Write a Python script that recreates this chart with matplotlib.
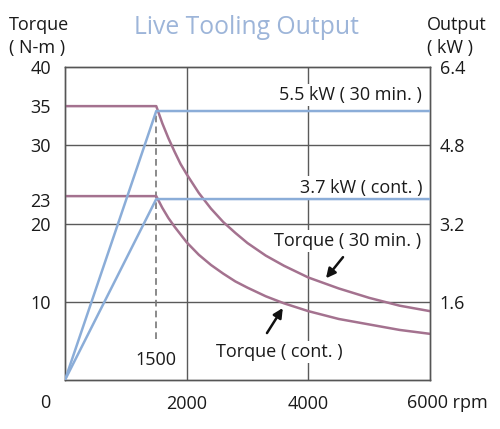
import numpy as np
import matplotlib
matplotlib.use("Agg")
import matplotlib.pyplot as plt

plt.rcParams['font.family'] = ['Open Sans', 'DejaVu Sans']

# torque curves (N-m)
rpm_t = [0, 1500, 1600, 1700, 1800, 1900, 2000, 2200, 2400, 2600, 2800, 3000,
         3300, 3600, 4000, 4500, 5000, 5500, 6000]
torque_30 = [35, 35, 32.8, 30.9, 29.2, 27.6, 26.3, 23.9, 21.9, 20.2, 18.8, 17.5,
             15.9, 14.6, 13.1, 11.7, 10.5, 9.5, 8.8]
torque_cont = [23.5, 23.5, 22.0, 20.7, 19.6, 18.6, 17.6, 16.0, 14.7, 13.6, 12.6, 11.8,
               10.7, 9.8, 8.8, 7.8, 7.1, 6.4, 5.9]

# output curves (kW)
rpm_p = [0, 1500, 6000]
power_30 = [0, 5.5, 5.5]
power_cont = [0, 3.7, 3.7]

left_ticks = [40, 35, 30, 23, 20, 10]
right_ticks = [6.4, 4.8, 3.2, 1.6]
x_ticks = [2000, 4000]

mauve = '#a4728f'
blue = '#8badd8'
grid_c = '#5a5a5a'
txt_c = '#1a1a1a'
fs = 13

fig = plt.figure(figsize=(5, 4.29), dpi=100)
ax = fig.add_axes([0.13, 0.1142, 0.73, 0.7296])
ax2 = ax.twinx()

ax.set_xlim(0, 6000)
ax.set_ylim(0, 40)
ax2.set_ylim(0, 6.4)

# grid
for yv in [10, 20, 30]:
    ax.axhline(yv, color=grid_c, lw=1.0, zorder=1)
for xv in x_ticks:
    ax.axvline(xv, color=grid_c, lw=1.0, zorder=1)

ax.plot(rpm_t, torque_30, color=mauve, lw=1.8, zorder=3)
ax.plot(rpm_t, torque_cont, color=mauve, lw=1.8, zorder=3)
ax2.plot(rpm_p, power_30, color=blue, lw=1.8, zorder=3)
ax2.plot(rpm_p, power_cont, color=blue, lw=1.8, zorder=3)

ax.vlines(1500, 5.2, 34.4, colors='#777777', linestyles=(0, (4, 2.5)), lw=1.2, zorder=2)

for a in (ax, ax2):
    for s in a.spines.values():
        s.set_color('#555555')
        s.set_linewidth(1.0)

ax.set_yticks(left_ticks)
ax.set_yticklabels([str(v) for v in left_ticks])
ax.set_xticks(x_ticks)
ax.set_xticklabels([str(v) for v in x_ticks])
ax2.set_yticks(right_ticks)
ax2.set_yticklabels([str(v) for v in right_ticks])
ax.tick_params(axis='y', length=0, pad=10, labelsize=fs, labelcolor=txt_c)
ax.tick_params(axis='x', length=0, pad=11, labelsize=fs, labelcolor=txt_c)
ax2.tick_params(axis='y', length=0, pad=7, labelsize=fs, labelcolor=txt_c)

ax2.set_zorder(ax.get_zorder() + 1)
ax2.patch.set_visible(False)

bb = dict(facecolor='white', edgecolor='none', pad=1.5)
ax.text(5870, 36.4, '5.5 kW ( 30 min. )', ha='right', va='center', fontsize=fs, color=txt_c, bbox=bb, zorder=4)
ax.text(5870, 24.6, '3.7 kW ( cont. )', ha='right', va='center', fontsize=fs, color=txt_c, bbox=bb, zorder=4)
ax.text(1500, 2.6, '1500', ha='center', va='center', fontsize=fs, color=txt_c, zorder=4)
ax.text(4640, 17.8, 'Torque ( 30 min. )', ha='center', va='center', fontsize=fs, color=txt_c, bbox=bb, zorder=4)
ax.text(3520, 3.6, 'Torque ( cont. )', ha='center', va='center', fontsize=fs, color=txt_c, bbox=bb, zorder=4)

arr = dict(arrowstyle='-|>', color='#111111', lw=1.8, mutation_scale=14, shrinkA=0, shrinkB=0)
ax.annotate('', xy=(4290, 13.0), xytext=(4570, 15.7), arrowprops=arr, zorder=5)
ax.annotate('', xy=(3580, 9.2), xytext=(3320, 6.0), arrowprops=arr, zorder=5)

# stray axis labels
fig.text(45 / 500, 1 - 403 / 429, '0', ha='center', va='center', fontsize=fs, color=txt_c)
fig.text(407 / 500, 1 - 403 / 429, '6000 rpm', ha='left', va='center', fontsize=fs, color=txt_c)

fig.text(9 / 500, 1 - 25 / 429, 'Torque', ha='left', va='center', fontsize=fs, color=txt_c)
fig.text(9 / 500, 1 - 48 / 429, '( N-m )', ha='left', va='center', fontsize=fs, color=txt_c)
fig.text(427 / 500, 1 - 25 / 429, 'Output', ha='left', va='center', fontsize=fs, color=txt_c)
fig.text(427 / 500, 1 - 48 / 429, '( kW )', ha='left', va='center', fontsize=fs, color=txt_c)
fig.text(247 / 500, 1 - 28 / 429, 'Live Tooling Output', ha='center', va='center', fontsize=17.8, color='#9db5d9')

fig.savefig('out.png', dpi=100)
